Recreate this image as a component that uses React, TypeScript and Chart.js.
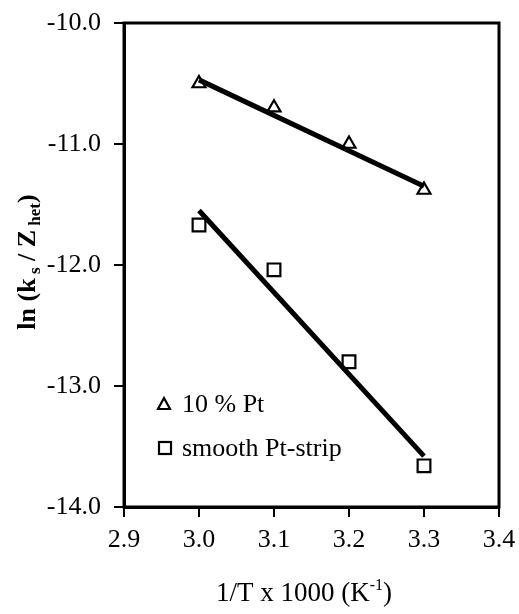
import React, { useEffect, useRef } from "react";
import { Chart, registerables } from "chart.js";

Chart.register(...registerables);

const xTriangles = [3.0, 3.1, 3.2, 3.3];
const yTriangles = [-10.5, -10.7, -11.0, -11.38];
const xSquares = [3.0, 3.1, 3.2, 3.3];
const ySquares = [-11.67, -12.04, -12.8, -13.66];
const fitTriangleX = [3.0, 3.3];
const fitTriangleY = [-10.47, -11.35];
const fitSquareX = [3.0, 3.3];
const fitSquareY = [-11.55, -13.58];
const legendLabels = ["10 % Pt", "smooth Pt-strip"];
const xTitleMain = "1/T x 1000 (K";
const xTitleSup = "-1";
const xTitleEnd = ")";
const yTitleParts: [string, boolean][] = [
  ["ln (k", false],
  [" s", true],
  [" / Z", false],
  [" het", true],
  [")", false],
];

const FONT = "'Liberation Serif', 'Times New Roman', serif";

const framePlugin = {
  id: "frame",
  afterDraw(chart: any) {
    const { ctx, chartArea: a } = chart;
    ctx.save();
    ctx.strokeStyle = "#000";
    ctx.lineWidth = 3;
    ctx.strokeRect(a.left, a.top, a.right - a.left, a.bottom - a.top);
    ctx.restore();

    // legend
    ctx.save();
    ctx.fillStyle = "#000";
    ctx.strokeStyle = "#000";
    ctx.lineWidth = 2.2;
    ctx.font = `26px ${FONT}`;
    ctx.textBaseline = "middle";
    const lx = a.left + 40;
    const ly1 = a.top + 381;
    const ly2 = a.top + 425;
    ctx.beginPath();
    ctx.moveTo(lx, ly1 - 6);
    ctx.lineTo(lx + 6, ly1 + 5);
    ctx.lineTo(lx - 6, ly1 + 5);
    ctx.closePath();
    ctx.stroke();
    ctx.strokeRect(lx - 5, ly2 - 6, 12, 12);
    ctx.fillText(legendLabels[0], lx + 18, ly1 + 1);
    ctx.fillText(legendLabels[1], lx + 18, ly2 + 1);
    ctx.restore();

    // x title
    ctx.save();
    ctx.fillStyle = "#000";
    ctx.textBaseline = "alphabetic";
    const mainF = `27px ${FONT}`;
    const supF = `16px ${FONT}`;
    ctx.font = mainF;
    const w1 = ctx.measureText(xTitleMain).width;
    const w3 = ctx.measureText(xTitleEnd).width;
    ctx.font = supF;
    const w2 = ctx.measureText(xTitleSup).width;
    const total = w1 + w2 + w3;
    const cx = 304;
    let x = cx - total / 2;
    const by = 601;
    ctx.font = mainF;
    ctx.fillText(xTitleMain, x, by);
    x += w1;
    ctx.font = supF;
    ctx.fillText(xTitleSup, x, by - 11);
    x += w2;
    ctx.font = mainF;
    ctx.fillText(xTitleEnd, x, by);
    ctx.restore();

    // y title
    ctx.save();
    ctx.fillStyle = "#000";
    ctx.translate(35, 262);
    ctx.rotate(-Math.PI / 2);
    ctx.textBaseline = "alphabetic";
    const fm = `bold 26px ${FONT}`;
    const fs = `bold 17px ${FONT}`;
    const widths = yTitleParts.map(([t, sub]) => {
      ctx.font = sub ? fs : fm;
      return ctx.measureText(t).width;
    });
    const tw = widths.reduce((s, v) => s + v, 0);
    let px = -tw / 2;
    yTitleParts.forEach(([t, sub], i) => {
      ctx.font = sub ? fs : fm;
      ctx.fillText(t, px, sub ? 5 : 0);
      px += widths[i];
    });
    ctx.restore();
  },
};

const zeroPad = (s: any) => {
  s.paddingTop = 0;
  s.paddingBottom = 0;
  s.paddingLeft = 0;
  s.paddingRight = 0;
};

export default function App() {
  const ref = useRef<HTMLCanvasElement>(null);
  useEffect(() => {
    document.body.style.margin = "0";
    const canvas = ref.current!;
    const chart = new Chart(canvas, {
      type: "scatter",
      data: {
        datasets: [
          {
            label: legendLabels[0],
            data: xTriangles.map((x, i) => ({ x, y: yTriangles[i] })),
            pointStyle: "triangle",
            pointRadius: 7.5,
            borderColor: "#000",
            backgroundColor: "rgba(255,255,255,0)",
            borderWidth: 2.2,
            showLine: false,
            order: 0,
          },
          {
            label: legendLabels[1],
            data: xSquares.map((x, i) => ({ x, y: ySquares[i] })),
            pointStyle: "rect",
            pointRadius: 9,
            borderColor: "#000",
            backgroundColor: "rgba(255,255,255,0)",
            borderWidth: 2.2,
            showLine: false,
            order: 0,
          },
          {
            label: "fit1",
            data: fitTriangleX.map((x, i) => ({ x, y: fitTriangleY[i] })),
            showLine: true,
            pointRadius: 0,
            borderColor: "#000",
            borderWidth: 5,
            order: 1,
          },
          {
            label: "fit2",
            data: fitSquareX.map((x, i) => ({ x, y: fitSquareY[i] })),
            showLine: true,
            pointRadius: 0,
            borderColor: "#000",
            borderWidth: 5,
            order: 1,
          },
        ],
      },
      options: {
        animation: false,
        responsive: false,
        layout: { padding: { top: 23, right: 20, left: 0, bottom: 0 } },
        plugins: { legend: { display: false }, tooltip: { enabled: false } },
        scales: {
          x: {
            type: "linear",
            min: 2.9,
            max: 3.4,
            afterFit: (s: any) => {
              s.height = 107;
              zeroPad(s);
            },
            ticks: {
              stepSize: 0.1,
              color: "#000",
              font: { family: FONT, size: 26 },
              padding: 8,
              maxRotation: 0,
              callback: (v: any) => Number(v).toFixed(1),
            },
            grid: {
              drawOnChartArea: false,
              drawTicks: true,
              tickLength: 10,
              color: "#000",
              lineWidth: 2,
            },
            border: { display: true, color: "#000", width: 3 },
          },
          y: {
            type: "linear",
            min: -14,
            max: -10,
            afterFit: (s: any) => {
              s.width = 124;
              zeroPad(s);
            },
            ticks: {
              stepSize: 1,
              color: "#000",
              font: { family: FONT, size: 26 },
              padding: 13,
              callback: (v: any) => Number(v).toFixed(1),
            },
            grid: {
              drawOnChartArea: false,
              drawTicks: true,
              tickLength: 10,
              color: "#000",
              lineWidth: 2,
            },
            border: { display: true, color: "#000", width: 3 },
          },
        },
      },
      plugins: [framePlugin],
    });
    return () => chart.destroy();
  }, []);
  return (
    <canvas
      ref={ref}
      width={519}
      height={614}
      style={{ display: "block", width: 519, height: 614 }}
    />
  );
}
